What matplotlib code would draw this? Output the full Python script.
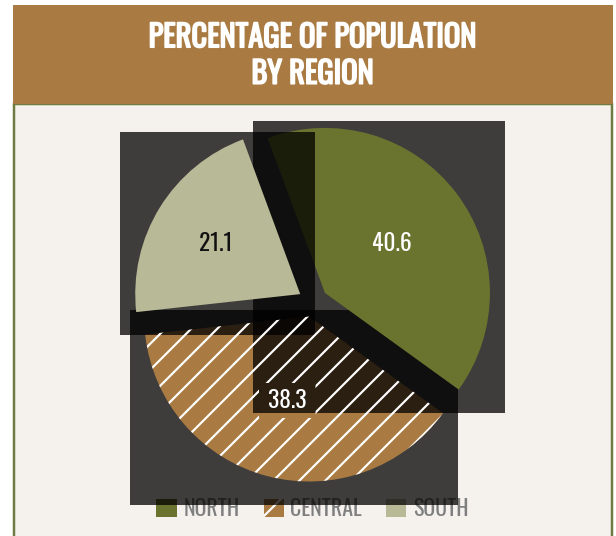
import numpy as np
import matplotlib
matplotlib.use("Agg")
import matplotlib.pyplot as plt
import matplotlib.patheffects as pe
from matplotlib import font_manager
from matplotlib.patches import Rectangle, PathPatch, Patch
from matplotlib.path import Path

# =================== DADOS ===================
regions = ["NORTH", "CENTRAL", "SOUTH"]
shares = [40.6, 38.3, 21.1]
share_labels = ["40.6", "38.3", "21.1"]
title = "PERCENTAGE OF POPULATION\nBY REGION"

colors = ["#6B742E", "#A97B42", "#B8B997"]
hatches = [None, "//", None]
label_colors = ["white", "white", "#111111"]

DPI = 156
W, H = 616, 536


def pick_font(names):
    """Primeira família instalada da lista."""
    avail = {f.name for f in font_manager.fontManager.ttflist}
    for n in names:
        if n in avail:
            return n
    return "DejaVu Sans"


FONT = pick_font(["Oswald", "Barlow Condensed", "Archivo Narrow", "Liberation Sans"])
plt.rcParams["font.family"] = [FONT, "DejaVu Sans"]
plt.rcParams["hatch.linewidth"] = 1.0


def pt(px):
    return px * 72 / DPI


fig = plt.figure(figsize=(W / DPI, H / DPI), dpi=DPI, facecolor="white")
ax = fig.add_axes([0, 0, 1, 1])
ax.set_xlim(0, W)
ax.set_ylim(0, H)

# card + title bar (pixel coords, y up)
ax.add_patch(Rectangle((14, -10), 598, H - 104 + 10, facecolor="#F5F2ED",
                       edgecolor="#6E7B43", linewidth=pt(2.5), zorder=0))
ax.add_patch(Rectangle((13, H - 104), 600, 99, facecolor="#A97B42",
                       edgecolor="none", zorder=0.5))
# Oswald vem só no peso regular -> contorno fino para engrossar
ax.text(312.5, H - 56, title, ha="center", va="center", color="white",
        fontsize=pt(30.5), fontweight="bold", linespacing=1.22, zorder=12,
        path_effects=[pe.withStroke(linewidth=pt(1.6), foreground="white")])

# pie
radius = 165
wedges, _ = ax.pie(shares, colors=colors, startangle=110.3, counterclock=False,
                   radius=radius, center=(313, H - 302), explode=[15] * 3,
                   frame=True, wedgeprops=dict(linewidth=0))
ax.set_xlim(0, W)
ax.set_ylim(0, H)
ax.axis("off")

draw_order = [1, 0, 2]  # central, north, south
for rank, i in enumerate(draw_order):
    w = wedges[i]
    bb = w.get_patch_transform().transform_path(w.get_path()).get_extents()
    ax.add_patch(Rectangle((bb.x0 - 15, bb.y0 - 15 - 8), bb.width + 30, bb.height + 30,
                           facecolor="black", alpha=0.75, linewidth=0,
                           zorder=2 + 2 * rank))
    w.set_zorder(3 + 2 * rank)

# value labels
label_dist = [0.51, 0.52, 0.6]
texts = []
for i, w in enumerate(wedges):
    th = np.deg2rad((w.theta1 + w.theta2) / 2)
    cx, cy = w.center
    t = ax.text(cx + label_dist[i] * w.r * np.cos(th), cy + label_dist[i] * w.r * np.sin(th) - 1,
                share_labels[i], ha="center", va="center", color=label_colors[i],
                fontsize=pt(23.5), zorder=11)
    texts.append(t)

# hatching above the shadow boxes, with a clear gap round the value label
fig.canvas.draw()
for i, w in enumerate(wedges):
    if not hatches[i]:
        continue
    tb = texts[i].get_window_extent().transformed(ax.transData.inverted())
    x0, x1 = tb.x0 - 9, tb.x1 + 9
    y0, y1 = tb.y0 - 6, tb.y1 + 6
    hole = Path([(x0, y0), (x0, y1), (x1, y1), (x1, y0), (x0, y0)],
                [Path.MOVETO, Path.LINETO, Path.LINETO, Path.LINETO, Path.CLOSEPOLY])
    wpath = w.get_patch_transform().transform_path(w.get_path())
    ax.add_patch(PathPatch(Path.make_compound_path(wpath, hole), facecolor="none",
                           edgecolor="white", linewidth=0, hatch=hatches[i], zorder=10))

handles = [Patch(facecolor=colors[i], hatch=hatches[i],
                 edgecolor="white" if hatches[i] else colors[i], linewidth=0)
           for i in range(len(regions))]
leg = ax.legend(handles, regions, loc="center", bbox_to_anchor=(312.5, H - 509),
                bbox_transform=ax.transData, ncol=3, frameon=False,
                prop=dict(family=[FONT, "DejaVu Sans"], size=pt(22)),
                labelcolor="#7F7F80", handlelength=0.92, handleheight=0.87,
                handletextpad=0.3, columnspacing=1.1, borderpad=0)
leg.set_zorder(1)

fig.savefig("out.png", dpi=DPI, facecolor="white")
